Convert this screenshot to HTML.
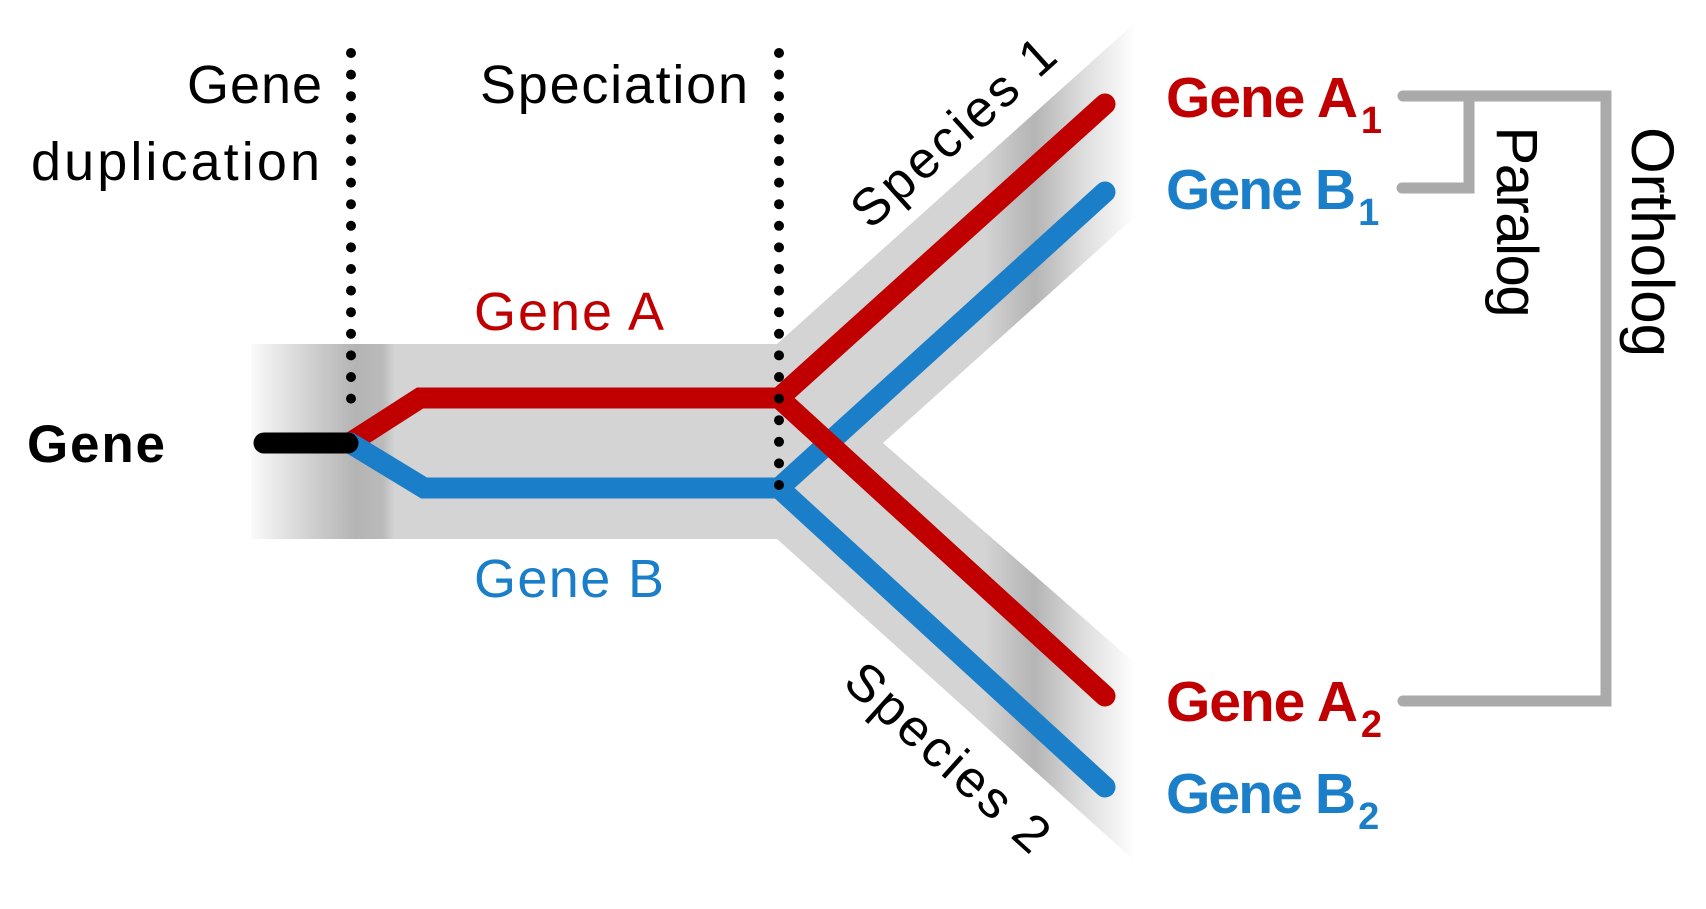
<!DOCTYPE html>
<html><head><meta charset="utf-8"><style>
html,body{margin:0;padding:0;background:#fff;}
svg{display:block;}
text{font-family:"Liberation Sans",sans-serif;}
</style></head><body>
<svg width="1706" height="909" viewBox="0 0 1706 909" xmlns="http://www.w3.org/2000/svg">
<defs>
<linearGradient id="gl" x1="251" y1="0" x2="420" y2="0" gradientUnits="userSpaceOnUse">
<stop offset="0" stop-color="#fafafa"/>
<stop offset="0.35" stop-color="#d0d0d0"/>
<stop offset="0.62" stop-color="#b4b4b4"/>
<stop offset="0.78" stop-color="#bababa"/>
<stop offset="0.85" stop-color="#d4d4d4"/>
<stop offset="1" stop-color="#d4d4d4"/>
</linearGradient>
<linearGradient id="gr" x1="775" y1="0" x2="1136" y2="0" gradientUnits="userSpaceOnUse">
<stop offset="0" stop-color="#d4d4d4"/>
<stop offset="0.58" stop-color="#d4d4d4"/>
<stop offset="0.68" stop-color="#bcbcbc"/>
<stop offset="0.72" stop-color="#b5b5b5"/>
<stop offset="0.85" stop-color="#dcdcdc"/>
<stop offset="1" stop-color="#ffffff"/>
</linearGradient>
</defs>
<rect x="251" y="344" width="528" height="195" fill="url(#gl)"/>
<polygon points="777,344 1136,22 1136,216 883,443 1136,664 1136,862 777,539" fill="url(#gr)"/>
<polyline points="350,443 420,398 779,398 1105,104" fill="none" stroke="#c00000" stroke-width="21" stroke-linecap="round" stroke-linejoin="miter"/>
<polyline points="350,443 424,488 779,488 1105,192" fill="none" stroke="#1a7fc8" stroke-width="21" stroke-linecap="round"/>
<line x1="779" y1="398" x2="1105" y2="696" stroke="#c00000" stroke-width="21" stroke-linecap="round"/>
<line x1="779" y1="488" x2="1105" y2="787" stroke="#1a7fc8" stroke-width="21" stroke-linecap="round"/>
<line x1="264" y1="443" x2="348" y2="443" stroke="#000" stroke-width="21" stroke-linecap="round"/>
<line x1="351" y1="53" x2="351" y2="420" stroke="#000" stroke-width="10" stroke-linecap="round" stroke-dasharray="0 21.6"/>
<line x1="779" y1="53" x2="779" y2="490" stroke="#000" stroke-width="10" stroke-linecap="round" stroke-dasharray="0 21.6"/>
<text x="322" y="103" font-size="54" text-anchor="end" textLength="135">Gene</text>
<text x="320" y="180" font-size="54" text-anchor="end" textLength="289">duplication</text>
<text x="748" y="103" font-size="54" text-anchor="end" textLength="268">Speciation</text>
<text x="474" y="330" font-size="54" fill="#c00000" textLength="190">Gene A</text>
<text x="474" y="597" font-size="54" fill="#1a7fc8" textLength="190">Gene B</text>
<text x="27" y="462" font-size="53" font-weight="bold" textLength="138">Gene</text>
<g font-weight="bold" font-size="57">
<text x="1166" y="117" fill="#c00000"><tspan textLength="192">Gene A</tspan><tspan font-size="38" dy="16" dx="4">1</tspan></text>
<text x="1166" y="209" fill="#1a7fc8"><tspan textLength="190">Gene B</tspan><tspan font-size="38" dy="16" dx="4">1</tspan></text>
<text x="1166" y="721" fill="#c00000"><tspan textLength="192">Gene A</tspan><tspan font-size="38" dy="16" dx="4">2</tspan></text>
<text x="1166" y="813" fill="#1a7fc8"><tspan textLength="190">Gene B</tspan><tspan font-size="38" dy="16" dx="4">2</tspan></text>
</g>
<g fill="none" stroke="#aaa" stroke-width="11" stroke-linecap="round">
<polyline points="1403,96 1606,96 1606,701 1403,701" stroke-linecap="butt"/>
<line x1="1403" y1="96" x2="1415" y2="96"/>
<line x1="1403" y1="701" x2="1415" y2="701"/>
<polyline points="1402,188 1469,188 1469,96"/>
</g>
<text transform="translate(1497,222) rotate(90)" font-size="58" text-anchor="middle" textLength="191">Paralog</text>
<text transform="translate(1632,242) rotate(90)" font-size="60" text-anchor="middle" textLength="230">Ortholog</text>
<text transform="translate(953,132) rotate(-42)" font-size="52" text-anchor="middle" dy="18" textLength="255">Species 1</text>
<text transform="translate(948,757) rotate(42)" font-size="52" text-anchor="middle" dy="18" textLength="255">Species 2</text>
</svg>
</body></html>
